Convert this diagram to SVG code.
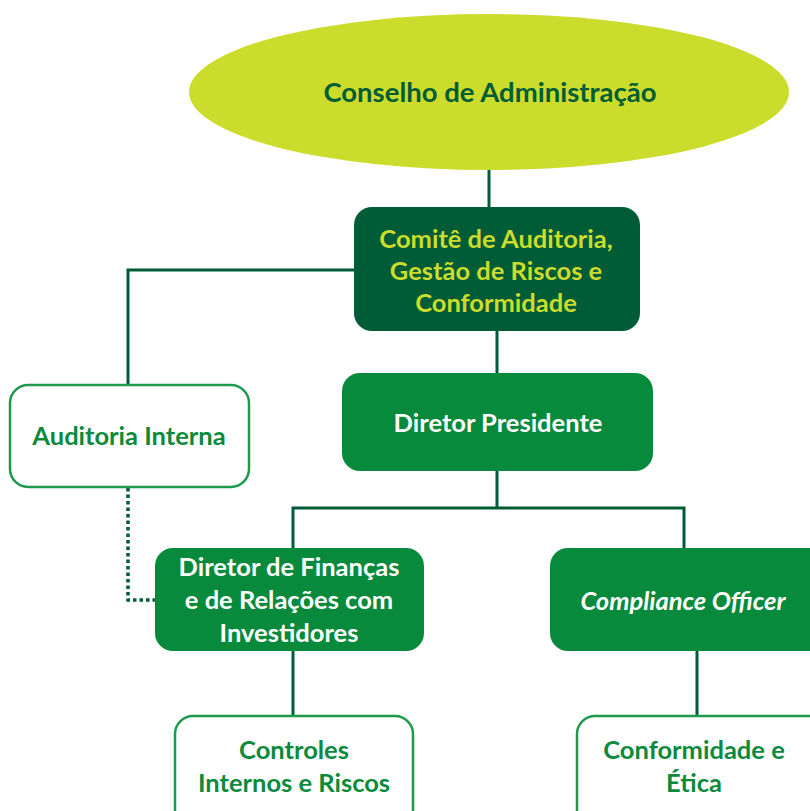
<svg xmlns="http://www.w3.org/2000/svg" width="810" height="811" viewBox="0 0 810 811">
  <style>
    text { font-family: Lato, "Open Sans", "Liberation Sans", sans-serif; font-weight: bold; text-anchor: middle; dominant-baseline: central; }
    .board { fill: #ccdc2c; }
    .board-label { fill: #005c36; font-size: 27.5px; }
    .dark { fill: #005c36; }
    .dark-label { fill: #ccdc2c; font-size: 25.5px; }
    .solid { fill: #078a3c; }
    .solid-label { fill: #ffffff; font-size: 25.5px; }
    .outline { fill: #ffffff; stroke: #1f9a4c; stroke-width: 2.5; }
    .outline-label { fill: #0b8a3c; font-size: 25.5px; }
    .link { fill: none; stroke: #005c36; stroke-width: 3; }
    .dotted { fill: none; stroke: #005c36; stroke-width: 3.5; stroke-dasharray: 3.5 3; }
  </style>

  <g id="connectors">
    <path class="link" d="M489 170 V207"/>
    <path class="link" d="M354 270 H128 V385"/>
    <path class="link" d="M497 331 V373"/>
    <path class="link" d="M497 471 V508 M293 548 V508 H684 V548"/>
    <path class="link" d="M293 651 V716"/>
    <path class="link" d="M697 651 V716"/>
    <path class="dotted" d="M128 488 V600 H155"/>
  </g>

  <g id="conselho">
    <ellipse class="board" cx="489" cy="92" rx="300" ry="78"/>
    <text class="board-label" x="490" y="91">Conselho de Administração</text>
  </g>

  <g id="comite">
    <rect class="dark" x="354" y="207" width="286" height="124" rx="18"/>
    <text class="dark-label" x="496" y="238">Comitê de Auditoria,</text>
    <text class="dark-label" x="496" y="270">Gestão de Riscos e</text>
    <text class="dark-label" x="496" y="302">Conformidade</text>
  </g>

  <g id="auditoria-interna">
    <rect class="outline" x="10" y="385" width="239" height="102" rx="18"/>
    <text class="outline-label" x="129" y="435">Auditoria Interna</text>
  </g>

  <g id="diretor-presidente">
    <rect class="solid" x="342" y="373" width="311" height="98" rx="18"/>
    <text class="solid-label" x="498" y="422">Diretor Presidente</text>
  </g>

  <g id="diretor-financas">
    <rect class="solid" x="155" y="548" width="269" height="103" rx="18"/>
    <text class="solid-label" x="289" y="566">Diretor de Finanças</text>
    <text class="solid-label" x="289" y="599">e de Relações com</text>
    <text class="solid-label" x="289" y="632">Investidores</text>
  </g>

  <g id="compliance-officer">
    <rect class="solid" x="550" y="548" width="280" height="103" rx="18"/>
    <text class="solid-label" x="683" y="600" font-style="italic" font-size="27.8px">Compliance Officer</text>
  </g>

  <g id="controles-internos">
    <rect class="outline" x="175" y="716" width="238" height="120" rx="18"/>
    <text class="outline-label" x="294" y="749">Controles</text>
    <text class="outline-label" x="294" y="782">Internos e Riscos</text>
  </g>

  <g id="conformidade-etica">
    <rect class="outline" x="577" y="716" width="250" height="120" rx="18"/>
    <text class="outline-label" x="694" y="749">Conformidade e</text>
    <text class="outline-label" x="694" y="782">Ética</text>
  </g>
</svg>
